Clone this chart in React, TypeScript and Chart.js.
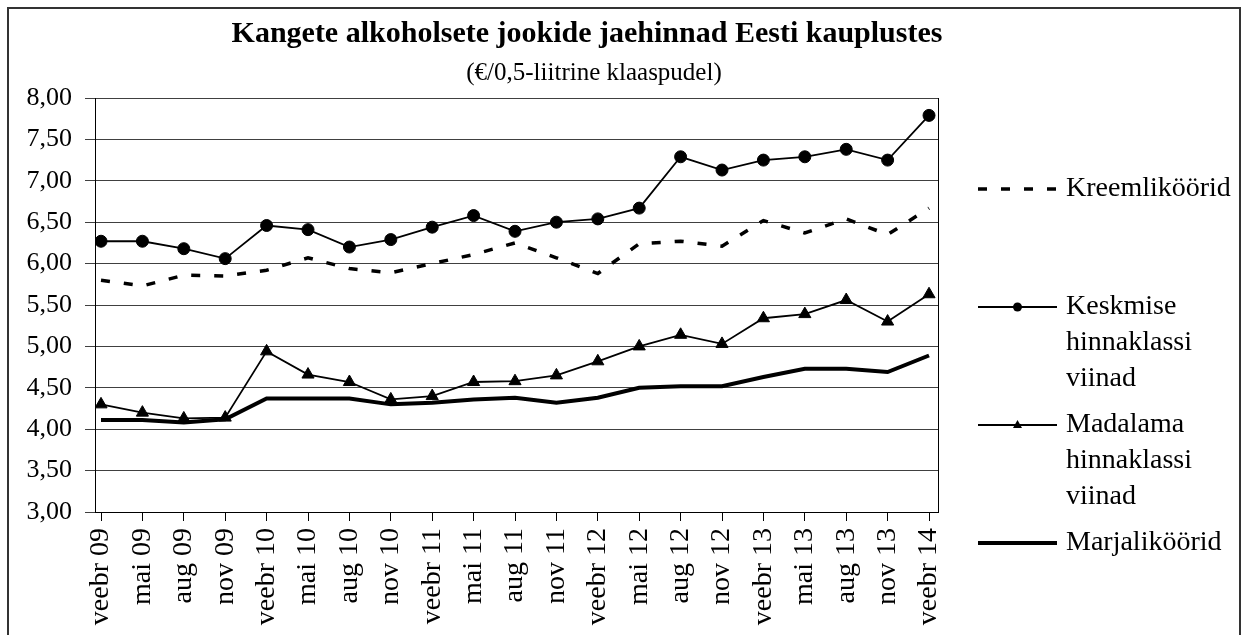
import React, { useEffect, useRef } from 'react';
import { Chart, registerables } from 'chart.js';

Chart.register(...registerables);

const CATEGORIES = [
  'veebr 09', 'mai 09', 'aug 09', 'nov 09',
  'veebr 10', 'mai 10', 'aug 10', 'nov 10',
  'veebr 11', 'mai 11', 'aug 11', 'nov 11',
  'veebr 12', 'mai 12', 'aug 12', 'nov 12',
  'veebr 13', 'mai 13', 'aug 13', 'nov 13',
  'veebr 14',
];

const KREEM = [5.80, 5.73, 5.86, 5.85, 5.92, 6.07, 5.94, 5.89, 6.00, 6.11, 6.25, 6.07, 5.88, 6.24, 6.27, 6.21, 6.52, 6.37, 6.54, 6.35, 6.67];
const KESKMISE = [6.27, 6.27, 6.18, 6.06, 6.46, 6.41, 6.20, 6.29, 6.44, 6.58, 6.39, 6.50, 6.54, 6.67, 7.29, 7.13, 7.25, 7.29, 7.38, 7.25, 7.79];
const MADALAMA = [4.30, 4.20, 4.13, 4.14, 4.94, 4.66, 4.57, 4.36, 4.40, 4.57, 4.58, 4.65, 4.82, 5.00, 5.14, 5.03, 5.34, 5.39, 5.56, 5.30, 5.63];
const MARJA = [4.11, 4.11, 4.08, 4.12, 4.37, 4.37, 4.37, 4.30, 4.32, 4.36, 4.38, 4.32, 4.38, 4.50, 4.52, 4.52, 4.63, 4.73, 4.73, 4.69, 4.89];

const SERIES_NAMES = ['Kreemliköörid', 'Keskmise hinnaklassi viinad', 'Madalama hinnaklassi viinad', 'Marjaliköörid'];
const LEGEND_LINES = [['Kreemliköörid'], ['Keskmise', 'hinnaklassi', 'viinad'], ['Madalama', 'hinnaklassi', 'viinad'], ['Marjaliköörid']];

const TITLE = 'Kangete alkoholsete jookide jaehinnad Eesti kauplustes';
const SUBTITLE = '(€/0,5-liitrine klaaspudel)';

const Y_MIN = 3;
const Y_MAX = 8;
const Y_STEP = 0.5;

const FONT = '"Liberation Serif", "Times New Roman", serif';

const toPoints = (vals: number[]) => vals.map((y, i) => ({ x: i, y }));

const LEGEND_Y = [180, 298, 416, 534];
const LEGEND_LINE_H = 36;

const decorPlugin = {
  id: 'decor',
  afterDraw(chart: any) {
    const { ctx, chartArea } = chart;
    ctx.save();
    // right frame of plot area
    ctx.strokeStyle = '#000';
    ctx.lineWidth = 1;
    const rx = Math.round(chartArea.right) + 0.5;
    ctx.beginPath();
    ctx.moveTo(rx, Math.round(chartArea.top));
    ctx.lineTo(rx, Math.round(chartArea.bottom) + 1);
    ctx.stroke();

    // title + subtitle
    ctx.fillStyle = '#000';
    ctx.textAlign = 'center';
    ctx.textBaseline = 'alphabetic';
    ctx.font = `bold 30px ${FONT}`;
    ctx.fillText(TITLE, 578, 33);
    ctx.font = `25px ${FONT}`;
    ctx.fillText(SUBTITLE, 585, 71);

    // legend
    const x1 = 969;
    const x2 = 1048;
    const tx = 1057;
    chart.data.datasets.forEach((ds: any, i: number) => {
      const y = LEGEND_Y[i];
      ctx.save();
      ctx.strokeStyle = '#000';
      ctx.lineWidth = ds.borderWidth;
      ctx.setLineDash(ds.borderDash || []);
      ctx.lineCap = 'butt';
      ctx.beginPath();
      ctx.moveTo(x1, y);
      ctx.lineTo(x2, y);
      ctx.stroke();
      ctx.setLineDash([]);
      if (ds.pointRadius > 0) {
        const cx = (x1 + x2) / 2;
        ctx.fillStyle = '#000';
        ctx.beginPath();
        if (ds.pointStyle === 'triangle') {
          const r = 5;
          ctx.moveTo(cx, y - r);
          ctx.lineTo(cx + r * 0.9, y + r * 0.6);
          ctx.lineTo(cx - r * 0.9, y + r * 0.6);
          ctx.closePath();
        } else {
          ctx.arc(cx, y, 4.5, 0, Math.PI * 2);
        }
        ctx.fill();
      }
      ctx.restore();
      ctx.fillStyle = '#000';
      ctx.textAlign = 'left';
      ctx.textBaseline = 'middle';
      ctx.font = `28px ${FONT}`;
      LEGEND_LINES[i].forEach((line, k) => {
        ctx.fillText(line, tx, y + k * LEGEND_LINE_H);
      });
    });
    ctx.restore();
  },
};

export default function App() {
  const ref = useRef<HTMLCanvasElement>(null);

  useEffect(() => {
    const canvas = ref.current!;
    const chart = new Chart(canvas, {
      type: 'line',
      data: {
        datasets: [
          {
            label: SERIES_NAMES[0],
            data: toPoints(KREEM),
            borderColor: '#000',
            borderWidth: 3.5,
            borderDash: [9, 14],
            pointRadius: 0,
            tension: 0,
            fill: false,
          },
          {
            label: SERIES_NAMES[1],
            data: toPoints(KESKMISE),
            borderColor: '#000',
            backgroundColor: '#000',
            borderWidth: 1.8,
            pointStyle: 'circle',
            pointRadius: 6,
            pointBorderWidth: 1,
            pointBackgroundColor: '#000',
            pointBorderColor: '#000',
            tension: 0,
            fill: false,
          },
          {
            label: SERIES_NAMES[2],
            data: toPoints(MADALAMA),
            borderColor: '#000',
            backgroundColor: '#000',
            borderWidth: 1.8,
            pointStyle: 'triangle',
            pointRadius: 7,
            pointBorderWidth: 1,
            pointBackgroundColor: '#000',
            pointBorderColor: '#000',
            tension: 0,
            fill: false,
          },
          {
            label: SERIES_NAMES[3],
            data: toPoints(MARJA),
            borderColor: '#000',
            borderWidth: 4,
            pointRadius: 0,
            tension: 0,
            fill: false,
          },
        ],
      },
      options: {
        responsive: false,
        animation: false,
        devicePixelRatio: 1,
        layout: { padding: { left: 0, top: 89, right: 301, bottom: 0 } },
        plugins: {
          legend: { display: false },
          title: { display: false },
          tooltip: { enabled: false },
        },
        scales: {
          x: {
            type: 'linear',
            min: -0.145,
            max: 20.217,
            afterBuildTicks: (s: any) => {
              s.ticks = CATEGORIES.map((_, i) => ({ value: i }));
            },
            afterFit: (s: any) => {
              s.height = 123;
            },
            ticks: {
              autoSkip: false,
              minRotation: 90,
              maxRotation: 90,
              padding: 7,
              color: '#000',
              font: { family: FONT, size: 28 },
              callback: (v: any) => CATEGORIES[v] ?? '',
            },
            grid: { drawOnChartArea: false, drawTicks: true, tickLength: 9, color: '#000' },
            border: { display: true, color: '#000', width: 1 },
          },
          y: {
            min: Y_MIN,
            max: Y_MAX,
            afterFit: (s: any) => {
              s.width = 86;
            },
            ticks: {
              stepSize: Y_STEP,
              padding: 13,
              color: '#000',
              font: { family: FONT, size: 26 },
              callback: (v: any) => Number(v).toFixed(2).replace('.', ','),
            },
            grid: { color: '#404040', lineWidth: 1, drawTicks: true, tickLength: 10 },
            border: { display: true, color: '#000', width: 1 },
          },
        },
      },
      plugins: [decorPlugin],
    } as any);
    return () => chart.destroy();
  }, []);

  return (
    <div
      style={{
        position: 'absolute',
        left: 7,
        top: 7,
        width: 1234,
        height: 628,
        boxSizing: 'border-box',
        borderTop: '2px solid #333',
        borderLeft: '2px solid #333',
        borderRight: '2px solid #333',
        background: '#fff',
      }}
    >
      <canvas ref={ref} width={1230} height={626} style={{ display: 'block', width: 1230, height: 626 }} />
    </div>
  );
}
